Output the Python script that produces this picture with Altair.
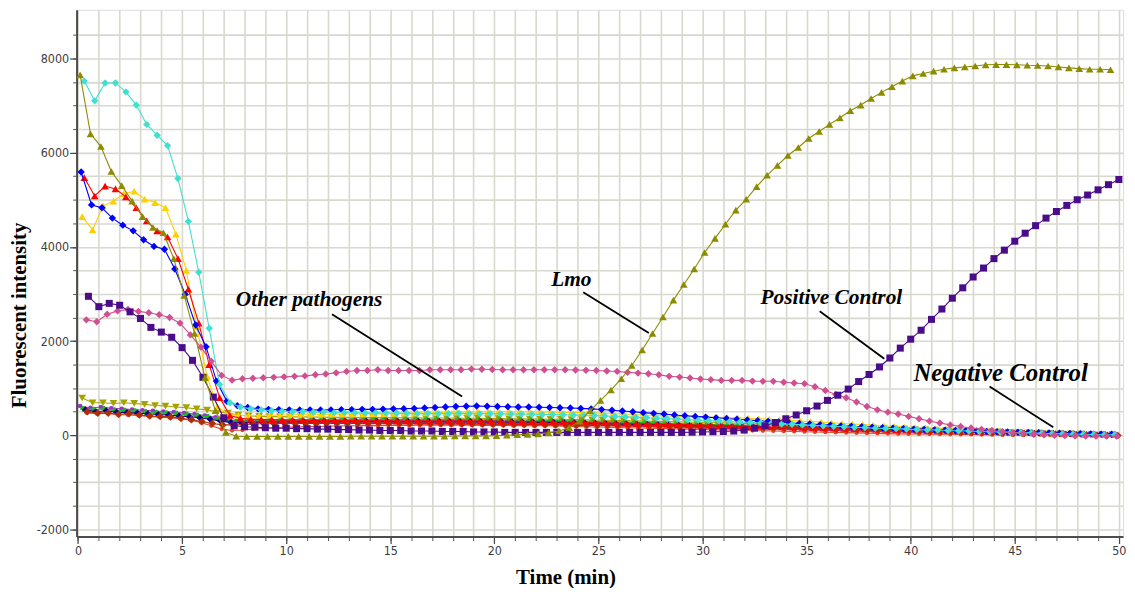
import altair as alt
import pandas as pd

# ---------------- data ----------------
STEP = 0.5  # sampling interval, minutes

lmo_t0 = 0.1
lmo = [7650, 6400, 6130, 5600, 5300, 4970, 4640, 4410, 4300, 3750,
       2970, 2160, 1220, 520, 60, -20, -25, -25, -25, -25,
       -25, -25, -25, -25, -25, -25, -20, -20, -20, -20,
       -20, -20, -20, -20, -20, -20, -15, -15, -15, -15,
       -10, 0, 10, 20, 30, 50, 90, 160, 300, 520,
       740, 960, 1200, 1480, 1810, 2160, 2510, 2870, 3200, 3530,
       3880, 4180, 4480, 4780, 5010, 5280, 5520, 5730, 5940, 6110,
       6300, 6450, 6600, 6740, 6890, 7010, 7150, 7280, 7400, 7520,
       7630, 7680, 7730, 7770, 7800, 7820, 7840, 7865, 7870, 7870,
       7865, 7855, 7850, 7840, 7820, 7800, 7785, 7770, 7770, 7760]

pos_t0 = 0.5
positive = [2950, 2730, 2800, 2760, 2620, 2480, 2290, 2190, 2080, 1860,
            1590, 1230, 810, 370, 200, 180, 170, 160, 150, 150,
            140, 140, 130, 130, 120, 120, 110, 110, 100, 100,
            100, 90, 90, 90, 80, 80, 80, 70, 70, 70,
            60, 60, 60, 60, 60, 60, 60, 60, 60, 60,
            60, 60, 60, 60, 60, 60, 60, 60, 65, 70,
            75, 80, 90, 110, 150, 200, 270, 350, 430, 520,
            620, 740, 850, 980, 1140, 1290, 1450, 1640, 1850, 2040,
            2230, 2460, 2680, 2910, 3130, 3360, 3550, 3750, 3930, 4120,
            4290, 4450, 4610, 4750, 4880, 5000, 5100, 5210, 5320, 5430]

pink_t0 = 0.4
pink = [2450, 2410, 2570, 2640, 2670, 2630, 2600, 2560, 2500, 2380,
        2130, 1870, 1570, 1270, 1170, 1200, 1210, 1220, 1230, 1240,
        1250, 1260, 1285, 1300, 1325, 1355, 1375, 1375, 1390, 1375,
        1375, 1375, 1375, 1390, 1390, 1390, 1390, 1405, 1400, 1395,
        1390, 1390, 1390, 1390, 1390, 1390, 1390, 1385, 1380, 1375,
        1365, 1355, 1335, 1320, 1305, 1285, 1250, 1235, 1215, 1195,
        1180, 1165, 1165, 1165, 1150, 1145, 1145, 1125, 1110, 1095,
        1030, 950, 865, 795, 705, 610, 540, 490, 450, 400,
        350, 300, 260, 220, 185, 155, 125, 100, 75, 55,
        40, 25, 10, 0, -5, -10, -15, -15, -20, -20]

cyan_t0 = 0.3
cyan = [7520, 7100, 7480, 7480, 7290, 7010, 6600, 6370, 6150, 5450,
        4540, 3460, 2270, 1080, 690, 600, 560, 540, 520, 510,
        500, 505, 490, 495, 480, 485, 480, 470, 475, 470,
        470, 465, 460, 465, 460, 460, 465, 460, 460, 460,
        455, 450, 450, 445, 440, 440, 435, 430, 425, 420,
        410, 400, 390, 380, 372, 360, 350, 342, 330, 320,
        310, 300, 292, 280, 270, 262, 250, 240, 232, 220,
        210, 200, 192, 180, 170, 162, 150, 145, 140, 130,
        120, 115, 110, 100, 95, 90, 80, 75, 70, 60,
        55, 50, 40, 35, 30, 25, 20, 15, 10, 10]

blue_t0 = 0.15
blue = [5590, 4890, 4830, 4610, 4460, 4340, 4150, 4010, 3950, 3530,
        2990, 2340, 1880, 1150, 720, 630, 590, 560, 550, 545,
        540, 535, 540, 535, 540, 545, 545, 550, 550, 555,
        560, 565, 570, 580, 590, 600, 610, 615, 620, 615,
        610, 605, 600, 600, 595, 590, 585, 580, 570, 560,
        545, 530, 515, 500, 480, 465, 450, 430, 415, 400,
        385, 370, 355, 340, 325, 310, 295, 280, 265, 250,
        240, 225, 215, 200, 190, 180, 170, 160, 150, 140,
        130, 125, 115, 110, 100, 95, 90, 80, 75, 70,
        65, 60, 55, 50, 45, 40, 35, 30, 25, 20]

red_t0 = 0.3
red = [5470, 5080, 5290, 5230, 5060, 4830, 4550, 4340, 4210, 3750,
       3100, 2380, 1500, 800, 420, 360, 340, 335, 330, 325,
       320, 320, 315, 315, 310, 310, 310, 305, 305, 305,
       300, 300, 300, 300, 300, 300, 300, 300, 300, 300,
       295, 295, 290, 290, 285, 285, 280, 275, 270, 265,
       260, 255, 250, 245, 240, 235, 230, 225, 220, 215,
       210, 205, 200, 195, 190, 185, 180, 175, 170, 165,
       160, 155, 150, 145, 140, 135, 130, 125, 120, 115,
       110, 105, 100, 95, 90, 85, 80, 75, 70, 65,
       60, 55, 50, 45, 40, 35, 30, 30, 25, 25]

gold_t0 = 0.2
gold = [4640, 4360, 4870, 4970, 5130, 5180, 5010, 4940, 4830, 4270,
        3500, 2300, 1250, 600, 450, 420, 420, 420, 425, 430,
        430, 435, 440, 440, 445, 450, 450, 455, 460, 460,
        465, 470, 470, 475, 480, 485, 490, 495, 500, 500,
        500, 500, 500, 495, 495, 490, 490, 485, 480, 475,
        470, 460, 450, 440, 430, 420, 410, 400, 395, 390,
        385, 380, 375, 370, 360, 350, 340, 330, 315, 300,
        290, 280, 265, 250, 240, 225, 210, 200, 190, 175,
        165, 155, 145, 135, 125, 115, 105, 95, 90, 80,
        70, 65, 55, 50, 45, 40, 35, 30, 25, 20]

olive_down_t0 = 0.2
olive_down = [790, 690, 690, 675, 690, 675, 655, 630, 620, 600,
              585, 560, 535, 505, 470, 430, 410, 400, 395, 395,
              390, 390, 385, 385, 380, 380, 380, 375, 375, 375,
              370, 370, 370, 365, 365, 365, 360, 360, 360, 355,
              355, 350, 350, 345, 345, 340, 340, 335, 330, 325,
              320, 315, 310, 305, 300, 295, 290, 285, 280, 275,
              270, 265, 260, 255, 250, 240, 235, 225, 220, 210,
              200, 195, 185, 175, 170, 160, 150, 145, 135, 130,
              120, 115, 105, 100, 90, 85, 80, 70, 65, 60,
              55, 50, 45, 40, 35, 30, 25, 20, 20, 15]

brown_t0 = 0.45
brown = [500, 470, 470, 440, 460, 430, 410, 400, 390, 360,
         330, 290, 250, 220, 220, 225, 240, 250, 245, 255,
         250, 255, 250, 255, 255, 250, 255, 250, 255, 255,
         250, 250, 250, 245, 245, 245, 240, 240, 240, 235,
         235, 230, 230, 225, 225, 220, 220, 215, 215, 210,
         210, 205, 205, 200, 200, 195, 195, 190, 190, 185,
         180, 180, 175, 170, 170, 165, 160, 155, 150, 145,
         140, 135, 130, 125, 120, 115, 110, 105, 100, 95,
         90, 85, 80, 75, 70, 65, 60, 55, 50, 45,
         40, 35, 30, 25, 20, 15, 10, 5, 0, -5]

green_t0 = 0.25
green = [560, 540, 560, 530, 520, 510, 495, 480, 470, 455,
         440, 415, 390, 350, 320, 320, 325, 330, 330, 330,
         335, 335, 335, 340, 340, 340, 340, 340, 340, 340,
         340, 340, 340, 340, 340, 335, 335, 335, 330, 330,
         330, 325, 325, 320, 320, 315, 310, 305, 300, 295,
         290, 285, 280, 275, 270, 265, 260, 250, 245, 240,
         235, 225, 220, 215, 205, 200, 195, 185, 180, 175,
         165, 160, 155, 145, 140, 135, 125, 120, 115, 110,
         100, 95, 90, 85, 80, 70, 65, 60, 55, 50,
         45, 40, 35, 30, 25, 20, 15, 10, 10, 5]

navy_t0 = 0.35
navy = [540, 500, 520, 490, 480, 470, 455, 440, 430, 410,
        395, 370, 340, 300, 270, 265, 270, 275, 275, 280,
        280, 280, 285, 285, 285, 285, 290, 290, 290, 290,
        290, 290, 290, 290, 290, 285, 285, 285, 285, 280,
        280, 280, 275, 275, 270, 270, 265, 260, 255, 250,
        245, 240, 235, 230, 225, 220, 215, 210, 205, 200,
        195, 190, 185, 180, 175, 170, 165, 160, 155, 150,
        145, 140, 135, 130, 125, 120, 115, 110, 105, 100,
        95, 90, 85, 80, 75, 70, 65, 60, 55, 50,
        45, 40, 35, 30, 25, 20, 15, 10, 5, 0]

violet_t0 = 0.1
violet = [620, 580, 600, 570, 560, 545, 530, 520, 505, 490,
          470, 450, 420, 380, 330, 300, 290, 295, 300, 300,
          300, 305, 305, 305, 310, 310, 310, 310, 310, 310,
          305, 305, 305, 300, 300, 300, 300, 295, 295, 290,
          290, 285, 285, 280, 275, 270, 265, 260, 255, 250,
          245, 240, 235, 230, 225, 220, 215, 210, 205, 200,
          195, 190, 185, 180, 175, 170, 165, 160, 155, 150,
          145, 140, 135, 130, 125, 120, 115, 110, 105, 100,
          95, 90, 85, 80, 75, 70, 65, 60, 55, 50,
          45, 40, 35, 30, 30, 25, 20, 15, 10, 10]

orange_t0 = 0.4
orange = [480, 460, 470, 440, 430, 420, 400, 385, 370, 350,
          320, 270, 200, 130, 100, 110, 130, 150, 160, 170,
          175, 180, 185, 190, 195, 200, 200, 205, 205, 210,
          210, 210, 215, 215, 215, 215, 215, 215, 210, 210,
          210, 205, 205, 200, 200, 195, 190, 185, 180, 175,
          170, 165, 160, 155, 150, 145, 140, 135, 130, 125,
          120, 115, 110, 105, 100, 95, 90, 85, 80, 75,
          70, 65, 60, 55, 50, 45, 40, 35, 30, 28,
          26, 24, 22, 20, 18, 16, 14, 12, 10, 8,
          6, 4, 2, 0, -2, -4, -6, -8, -10, -10]

# axis tick values
X_MAJOR = [0, 5, 10, 15, 20, 25, 30, 35, 40, 45, 50]
X_MINOR = list(range(0, 51))
Y_MAJOR = [-2000, 0, 2000, 4000, 6000, 8000]
Y_MINOR = [-2000, -1500, -1000, -500, 0, 500, 1000, 1500, 2000, 2500, 3000,
           3500, 4000, 4500, 5000, 5500, 6000, 6500, 7000, 7500, 8000, 8500]

# annotations
ann_labels = ["Other pathogens", "Lmo", "Positive Control", "Negative Control"]
ann_text_t = [11.1, 23.7, 36.19, 44.32]
ann_text_v = [2740, 3161, 2797, 1159]
ann_size = [21.5, 21.5, 21.5, 25]
ann_line_t1 = [12.2, 24.27, 35.63, 43.79]
ann_line_v1 = [2571, 3035, 2634, 1033]
ann_line_t2 = [18.45, 27.42, 38.73, 46.85]
ann_line_v2 = [822, 2171, 1623, 169]

# series: name, start time, values, colour, marker shape, marker size (drawn in this order)
series = [
    ("olive_down", olive_down_t0, olive_down, "#A3A300", "triangle-down", 60),
    ("violet", violet_t0, violet, "#9932CC", "circle", 22),
    ("green", green_t0, green, "#20B820", "cross", 36),
    ("navy", navy_t0, navy, "#00008B", "diamond", 50),
    ("orange", orange_t0, orange, "#E0442A", "circle", 18),
    ("brown", brown_t0, brown, "#B02E06", "diamond", 60),
    ("gold", gold_t0, gold, "#FFD000", "triangle-up", 60),
    ("red", red_t0, red, "#FF0000", "triangle-up", 60),
    ("blue", blue_t0, blue, "#0000FF", "diamond", 55),
    ("cyan", cyan_t0, cyan, "#40E0D0", "diamond", 55),
    ("pink", pink_t0, pink, "#CF4F92", "diamond", 55),
    ("positive", pos_t0, positive, "#4B0C8C", "square", 50),
    ("lmo", lmo_t0, lmo, "#8C8C00", "triangle-up", 60),
]

rows = []
for name, t0, vals, _, _, _ in series:
    for i, v in enumerate(vals):
        rows.append({"series": name, "t": round(t0 + STEP * i, 3), "v": v})
df = pd.DataFrame(rows)

ann_df = pd.DataFrame({"label": ann_labels, "t": ann_text_t, "v": ann_text_v, "fs": ann_size})
line_df = pd.DataFrame({"t1": ann_line_t1, "v1": ann_line_v1, "t2": ann_line_t2, "v2": ann_line_v2})

# ---------------- chart ----------------
xscale = alt.Scale(domain=[-0.07, 50.2], nice=False, zero=False)
yscale = alt.Scale(domain=[-2150, 9033], nice=False, zero=False)

LABEL_FONT = "Liberation Sans Narrow, Arial Narrow, DejaVu Sans Condensed, Liberation Sans, sans-serif"
GRID = "#d8d8cf"
PLAIN = "'' + datum.value"

minor_layer = alt.Chart(df).mark_point(opacity=0).encode(
    x=alt.X("t:Q", scale=xscale, axis=alt.Axis(
        orient="bottom", values=X_MINOR, grid=True, gridColor=GRID, gridWidth=1.6,
        tickSize=4, tickColor="#555555", tickWidth=1, labels=False, domain=False, title=None)),
    y=alt.Y("v:Q", scale=yscale, axis=alt.Axis(
        orient="left", values=Y_MINOR, grid=True, gridColor=GRID, gridWidth=1.6,
        tickSize=4, tickColor="#555555", tickWidth=1, labels=False, domain=False, title=None)),
)

major_layer = alt.Chart(df).mark_point(opacity=0).encode(
    x=alt.X("t:Q", scale=xscale, axis=alt.Axis(
        orient="bottom", values=X_MAJOR, grid=False, tickSize=7, tickColor="#444444", tickWidth=1.2,
        domain=True, domainColor="#4d4d4d", domainWidth=2, labelExpr=PLAIN,
        labelFont=LABEL_FONT, labelFontSize=12.5, labelColor="#3c3c3c", labelPadding=1,
        title="Time (min)", titleFont="Liberation Serif", titleFontSize=21, titleFontWeight="bold",
        titleColor="#000000", titleX=492, titleY=41, titleBaseline="middle", titleAlign="center")),
    y=alt.Y("v:Q", scale=yscale, axis=alt.Axis(
        orient="left", values=Y_MAJOR, grid=False, tickSize=7, tickColor="#444444", tickWidth=1.2,
        domain=True, domainColor="#4d4d4d", domainWidth=2, labelExpr=PLAIN,
        labelFont=LABEL_FONT, labelFontSize=12.5, labelColor="#3c3c3c", labelPadding=1,
        title="Fluorescent intensity", titleFont="Liberation Serif", titleFontSize=21,
        titleFontWeight="bold", titleColor="#000000", titleAngle=270,
        titleX=-57, titleY=307, titleBaseline="middle", titleAlign="center")),
)

layers = [minor_layer, major_layer]
for name, t0, vals, color, shape, size in series:
    base = alt.Chart(df).transform_filter(alt.datum.series == name)
    enc = dict(x=alt.X("t:Q", scale=xscale, axis=None), y=alt.Y("v:Q", scale=yscale, axis=None))
    layers.append(base.mark_line(color=color, strokeWidth=1.1).encode(**enc))
    layers.append(base.mark_point(filled=True, color=color, shape=shape, size=size, opacity=1).encode(**enc))

rules = alt.Chart(line_df).mark_rule(color="black", strokeWidth=1.8).encode(
    x=alt.X("t1:Q", scale=xscale, axis=None), y=alt.Y("v1:Q", scale=yscale, axis=None),
    x2="t2:Q", y2="v2:Q")
texts = alt.Chart(ann_df).mark_text(
    font="Liberation Serif", fontWeight="bold", fontStyle="italic", color="black",
    align="center", baseline="alphabetic").encode(
    x=alt.X("t:Q", scale=xscale, axis=None), y=alt.Y("v:Q", scale=yscale, axis=None),
    text="label:N", size=alt.Size("fs:Q", scale=None, legend=None))
layers += [rules, texts]

chart = alt.layer(*layers).resolve_axis(x="independent", y="independent").properties(
    width=1053, height=530, autosize="none",
    padding={"left": 69, "top": 0, "right": 4, "bottom": 50},
).configure_view(stroke="#6a6a6a", strokeWidth=1.5).configure(background="white")

chart.save("out.html", embed_options={"renderer": "svg", "actions": False})
